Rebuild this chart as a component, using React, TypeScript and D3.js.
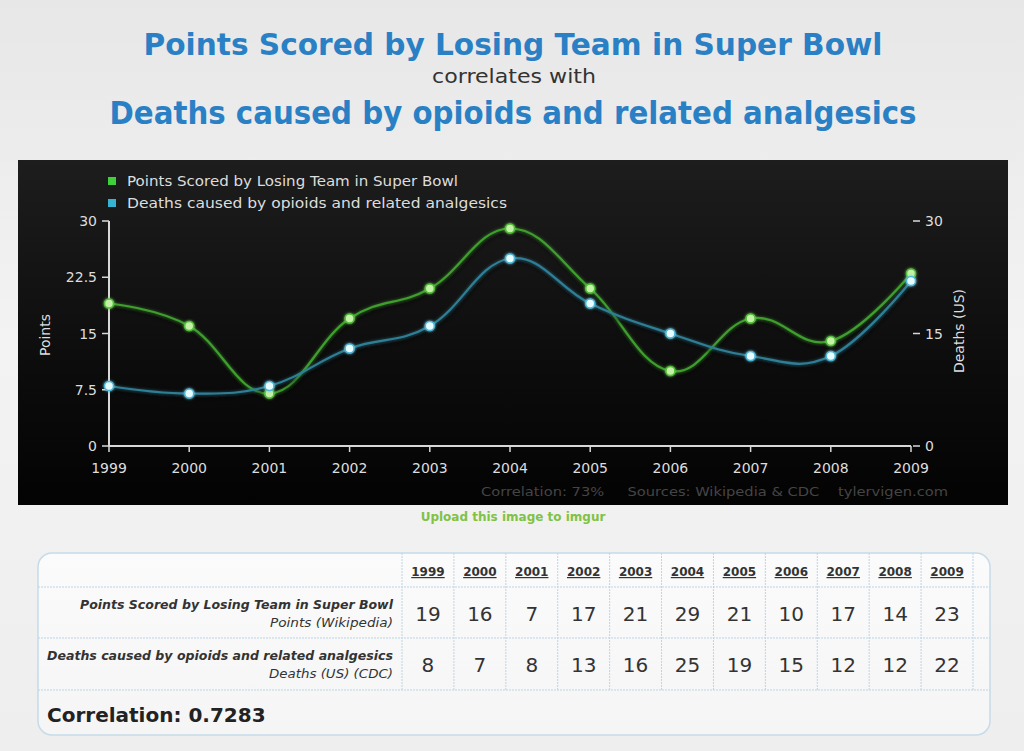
import React from "react";
import * as d3 from "d3";

const years = [1999, 2000, 2001, 2002, 2003, 2004, 2005, 2006, 2007, 2008, 2009];
const points = [19, 16, 7, 17, 21, 29, 21, 10, 17, 14, 23];
const deaths = [8, 7, 8, 13, 16, 25, 19, 15, 12, 12, 22];
const leftTicks = [0, 7.5, 15, 22.5, 30];
const rightTicks = [0, 15, 30];
const seriesNames = [
  "Points Scored by Losing Team in Super Bowl",
  "Deaths caused by opioids and related analgesics",
];
const rowSubs = ["Points (Wikipedia)", "Deaths (US) (CDC)"];
const correlation = "0.7283";

const FONT = "'DejaVu Sans', Verdana, sans-serif";

export default function App() {
  const x = d3.scaleLinear().domain([1999, 2009]).range([109, 911]);
  const y = d3.scaleLinear().domain([0, 30]).range([446, 221]);
  const yR = d3.scaleLinear().domain([0, 30]).range([446, 221]);
  const line = d3
    .line<number>()
    .x((_, i) => x(years[i]))
    .y((d) => y(d))
    .curve(d3.curveCardinal.tension(-0.2));
  const lineR = d3
    .line<number>()
    .x((_, i) => x(years[i]))
    .y((d) => yR(d))
    .curve(d3.curveCardinal.tension(-0.2));

  const col = d3.scaleBand<number>().domain(years).range([402, 973]);
  const tableLeft = 38,
    tableRight = 990,
    tableTop = 553,
    headBottom = 587,
    row1Bottom = 638,
    row2Bottom = 690,
    tableBottom = 735;

  const series = [
    { vals: points, path: line(points), sy: y, color: "#3f9e2e", glow: "#4fbf36", fill: "#c4f0a8", legend: "#3fcf3a" },
    { vals: deaths, path: lineR(deaths), sy: yR, color: "#2f7f96", glow: "#4ab8d8", fill: "#e8fbff", legend: "#36b2d2" },
  ];

  const legendLen = [331, 380];
  const subLen = [123, 124];
  const labelLen = [313, 346];

  return (
    <svg
      width={1024}
      height={751}
      style={{ position: "absolute", left: 0, top: 0 }}
      fontFamily={FONT}
    >
      <defs>
        <linearGradient id="pageBg" x1="0" y1="0" x2="0" y2="1">
          <stop offset="0" stopColor="#e7e7e7" />
          <stop offset="0.45" stopColor="#f3f3f3" />
          <stop offset="1" stopColor="#eeeeee" />
        </linearGradient>
        <linearGradient id="panelBg" x1="0" y1="0" x2="0" y2="1">
          <stop offset="0" stopColor="#1d1d1d" />
          <stop offset="0.6" stopColor="#0c0c0c" />
          <stop offset="1" stopColor="#030303" />
        </linearGradient>
        <linearGradient id="tableBg" x1="0" y1="0" x2="0" y2="1">
          <stop offset="0" stopColor="#fbfbfb" />
          <stop offset="1" stopColor="#f5f5f5" />
        </linearGradient>
        <filter id="glow" x="-10%" y="-20%" width="120%" height="140%">
          <feGaussianBlur in="SourceAlpha" stdDeviation="2.5" result="sh" />
          <feOffset in="sh" dx="1" dy="3" result="sho" />
          <feComponentTransfer in="sho" result="shd">
            <feFuncA type="linear" slope="0.9" />
          </feComponentTransfer>
          <feGaussianBlur in="SourceGraphic" stdDeviation="1.5" result="gl" />
          <feComponentTransfer in="gl" result="gld">
            <feFuncA type="linear" slope="0.6" />
          </feComponentTransfer>
          <feMerge>
            <feMergeNode in="shd" />
            <feMergeNode in="gld" />
            <feMergeNode in="SourceGraphic" />
          </feMerge>
        </filter>
        <filter id="dotGlow" x="-100%" y="-100%" width="300%" height="300%">
          <feGaussianBlur in="SourceGraphic" stdDeviation="1.5" result="gl" />
          <feMerge>
            <feMergeNode in="gl" />
            <feMergeNode in="SourceGraphic" />
          </feMerge>
        </filter>
      </defs>

      <rect x={0} y={0} width={1024} height={751} fill="url(#pageBg)" />

      {/* Titles */}
      <text x={513} y={55} textAnchor="middle" fontSize={31} fontWeight="bold" fill="#2a80c4" textLength={739} lengthAdjust="spacingAndGlyphs">
        {seriesNames[0]}
      </text>
      <text x={514} y={83} textAnchor="middle" fontSize={19} fill="#333" textLength={164} lengthAdjust="spacingAndGlyphs">
        correlates with
      </text>
      <text x={513} y={124} textAnchor="middle" fontSize={32} fontWeight="bold" fill="#2a80c4" textLength={807} lengthAdjust="spacingAndGlyphs">
        {seriesNames[1]}
      </text>

      {/* Chart panel */}
      <rect x={18} y={160} width={990} height={345} fill="url(#panelBg)" />

      {/* Legend */}
      {series.map((s, i) => (
        <g key={i}>
          <rect x={108} y={177 + i * 22} width={8} height={8} fill={s.legend} />
          <text x={127} y={186 + i * 22} fontSize={14} fill="#dddddd" textLength={legendLen[i]} lengthAdjust="spacingAndGlyphs">
            {seriesNames[i]}
          </text>
        </g>
      ))}

      {/* Left axis */}
      <line x1={x(1999)} x2={x(1999)} y1={y(30)} y2={y(0)} stroke="#d8d8d8" strokeWidth={2} />
      {leftTicks.map((t) => (
        <g key={t}>
          <line x1={x(1999) - 7} x2={x(1999)} y1={y(t)} y2={y(t)} stroke="#d8d8d8" strokeWidth={1.5} />
          <text x={x(1999) - 12} y={y(t) + 5} textAnchor="end" fontSize={14} fill="#dddddd">
            {t}
          </text>
        </g>
      ))}
      <text transform={`translate(50,335) rotate(-90)`} textAnchor="middle" fontSize={14} fill="#dddddd">
        Points
      </text>

      {/* Right axis */}
      {rightTicks.map((t) => (
        <g key={t}>
          <line x1={x(2009) + 2} x2={x(2009) + 9} y1={yR(t)} y2={yR(t)} stroke="#d8d8d8" strokeWidth={1.5} />
          <text x={x(2009) + 14} y={yR(t) + 5} fontSize={14} fill="#dddddd">
            {t}
          </text>
        </g>
      ))}
      <text transform={`translate(964,331) rotate(-90)`} textAnchor="middle" fontSize={14} fill="#dddddd">
        Deaths (US)
      </text>

      {/* Bottom axis */}
      <line x1={x(1999)} x2={x(2009)} y1={y(0)} y2={y(0)} stroke="#d8d8d8" strokeWidth={2} />
      {years.map((yr) => (
        <g key={yr}>
          <line x1={x(yr)} x2={x(yr)} y1={y(0)} y2={y(0) + 6} stroke="#d8d8d8" strokeWidth={1.5} />
          <text x={x(yr)} y={y(0) + 27} textAnchor="middle" fontSize={14} fill="#dddddd">
            {yr}
          </text>
        </g>
      ))}

      {/* Series */}
      {series.map((s, i) => (
        <path key={"l" + i} d={s.path || ""} fill="none" stroke={s.color} strokeWidth={2.2} filter="url(#glow)" />
      ))}
      {series.map((s, i) => (
        <g key={"d" + i} filter="url(#dotGlow)">
          {s.vals.map((v, j) => (
            <circle key={j} cx={x(years[j])} cy={s.sy(v)} r={4.5} fill={s.fill} stroke={s.glow} strokeWidth={1.5} />
          ))}
        </g>
      ))}

      {/* Footer */}
      <text x={481} y={496} fontSize={13} fill="#454545" xmlSpace="preserve" textLength={467} lengthAdjust="spacingAndGlyphs">
        {"Correlation: 73%     Sources: Wikipedia & CDC    tylervigen.com"}
      </text>
      <text x={513} y={521} textAnchor="middle" fontSize={12} fontWeight="bold" fill="#80c244">
        Upload this image to imgur
      </text>

      {/* Table */}
      <rect x={tableLeft} y={tableTop} width={tableRight - tableLeft} height={tableBottom - tableTop} rx={14} fill="url(#tableBg)" stroke="#c6dbe9" strokeWidth={1.5} />
      {[headBottom, row1Bottom, row2Bottom].map((yy) => (
        <line key={yy} x1={tableLeft} x2={tableRight} y1={yy} y2={yy} stroke="#bcd5e6" strokeWidth={1} strokeDasharray="2 1" />
      ))}
      {[...years.map((yr) => col(yr) as number), 973].map((xx, i) => (
        <line key={i} x1={xx} x2={xx} y1={tableTop} y2={row2Bottom} stroke="#bcd5e6" strokeWidth={1} strokeDasharray="2 1" />
      ))}
      {years.map((yr) => (
        <text key={yr} x={(col(yr) as number) + col.bandwidth() / 2} y={576} textAnchor="middle" fontSize={12} fontWeight="bold" fill="#333" textDecoration="underline">
          {yr}
        </text>
      ))}
      {[points, deaths].map((vals, r) => (
        <g key={r}>
          <text x={393} y={609 + r * 51} textAnchor="end" fontSize={12.5} fontStyle="italic" fontWeight="bold" fill="#333" textLength={labelLen[r]} lengthAdjust="spacingAndGlyphs">
            {seriesNames[r]}
          </text>
          <text x={393} y={627 + r * 51} textAnchor="end" fontSize={12.5} fontStyle="italic" fill="#333" textLength={subLen[r]} lengthAdjust="spacingAndGlyphs">
            {rowSubs[r]}
          </text>
          {vals.map((v, j) => (
            <text key={j} x={(col(years[j]) as number) + col.bandwidth() / 2} y={621 + r * 51} textAnchor="middle" fontSize={20} fill="#333">
              {v}
            </text>
          ))}
        </g>
      ))}
      <text x={47} y={722} fontSize={20} fontWeight="bold" fill="#222">
        Correlation: {correlation}
      </text>
    </svg>
  );
}
